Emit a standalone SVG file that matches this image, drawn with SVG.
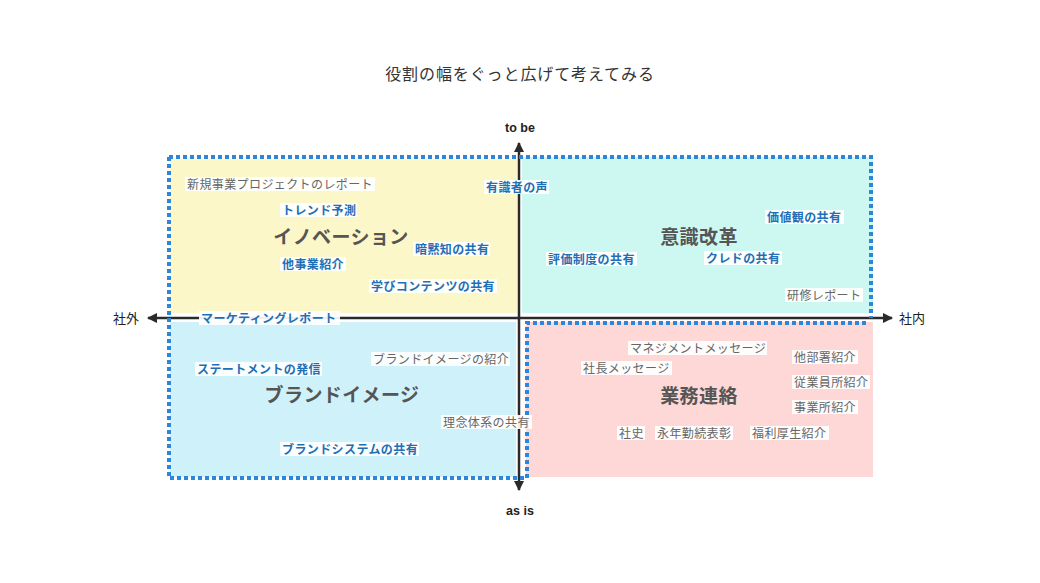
<svg xmlns="http://www.w3.org/2000/svg" width="1040" height="583" viewBox="0 0 1040 583">
<defs>
<style>
text{font-family:"Noto Sans CJK JP","Noto Sans",sans-serif;}
.title{font-size:16px;fill:#333;letter-spacing:0.9px;}
.ax{font-size:13px;fill:#222;}
.en{font-family:"Liberation Sans",Arial,sans-serif;font-size:12.5px;font-weight:bold;fill:#222;}
.big{font-size:19px;font-weight:bold;fill:#555;letter-spacing:0.4px;text-anchor:middle;}
.lb{font-size:12px;letter-spacing:0.4px;}
.blue{fill:#1f6fb6;font-weight:bold;}
.gray{fill:#666;}
.bg{fill:#fff;opacity:0.92;}
.axis{stroke:#2a2a2a;stroke-width:2.5;fill:none;}
.dots{fill:none;stroke:#2d86da;stroke-width:4;stroke-dasharray:4 3;}
</style>
<marker id="ah" viewBox="0 0 10 10" refX="9" refY="5" markerWidth="4.2" markerHeight="4.2" orient="auto-start-reverse" markerUnits="strokeWidth">
<path d="M0,0 L10,5 L0,10 Z" fill="#2a2a2a"/>
</marker>
</defs>
<rect width="1040" height="583" fill="#fff"/>
<text class="title" x="520" y="80" text-anchor="middle">役割の幅をぐっと広げて考えてみる</text>

<g id="quadrants">
<rect id="q-tl" x="170" y="159" width="347" height="154" fill="#fcf7c8"/>
<rect id="q-tr" x="522" y="157" width="351" height="156" fill="#cdf7f1"/>
<rect id="q-bl" x="170" y="322" width="346" height="155" fill="#cff1fa"/>
<rect id="q-br" x="526" y="322" width="347" height="155" fill="#fed8d6"/>
</g>

<g id="connectors">
<line class="axis" x1="519" y1="490" x2="519" y2="143" marker-end="url(#ah)" marker-start="url(#ah)"/>
<line class="axis" x1="148" y1="318" x2="892" y2="318" marker-end="url(#ah)" marker-start="url(#ah)"/>
</g>

<path id="dotted-border" class="dots" d="M169,157 H871 V318 M866,323 H527 V478 H169 V157"/>

<g id="axis-labels">
<text class="en" x="520" y="132" text-anchor="middle">to be</text>
<text class="en" x="520" y="515" text-anchor="middle">as is</text>
<text class="ax" x="113" y="323">社外</text>
<text class="ax" x="899" y="323">社内</text>
</g>

<g id="n-innovation"><text class="big" x="341" y="244">イノベーション</text></g>
<g id="n-ishiki"><text class="big" x="699" y="244">意識改革</text></g>
<g id="n-brand"><text class="big" x="342" y="402">ブランドイメージ</text></g>
<g id="n-gyomu"><text class="big" x="699" y="403">業務連絡</text></g>

<g id="l1"><rect class="bg" x="185" y="177" width="190" height="14"/><text class="lb gray" x="187" y="188.5">新規事業プロジェクトのレポート</text></g>
<g id="l2"><rect class="bg" x="280" y="203" width="77" height="14"/><text class="lb blue" x="282" y="214.5">トレンド予測</text></g>
<g id="l3"><rect class="bg" x="413" y="242" width="77" height="14"/><text class="lb blue" x="415" y="253.5">暗黙知の共有</text></g>
<g id="l4"><rect class="bg" x="280" y="257" width="66" height="14"/><text class="lb blue" x="282" y="268.5">他事業紹介</text></g>
<g id="l5"><rect class="bg" x="369" y="279" width="128" height="14"/><text class="lb blue" x="371" y="290.5">学びコンテンツの共有</text></g>
<g id="l6"><rect class="bg" x="484" y="180" width="65" height="14"/><text class="lb blue" x="486" y="191.5">有識者の声</text></g>
<g id="l7"><rect class="bg" x="199" y="311" width="141" height="14"/><text class="lb blue" x="201" y="322.5">マーケティングレポート</text></g>
<g id="l8"><rect class="bg" x="765" y="210" width="79" height="14"/><text class="lb blue" x="767" y="221.5">価値観の共有</text></g>
<g id="l9"><rect class="bg" x="546" y="252" width="91" height="14"/><text class="lb blue" x="548" y="263.5">評価制度の共有</text></g>
<g id="l10"><rect class="bg" x="704" y="251" width="78" height="14"/><text class="lb blue" x="706" y="262.5">クレドの共有</text></g>
<g id="l11"><rect class="bg" x="785" y="288" width="78" height="14"/><text class="lb gray" x="787" y="299.5">研修レポート</text></g>
<g id="l12"><rect class="bg" x="371" y="352" width="139" height="14"/><text class="lb gray" x="373" y="363.5">ブランドイメージの紹介</text></g>
<g id="l13"><rect class="bg" x="195" y="362" width="127" height="14"/><text class="lb blue" x="197" y="373.5">ステートメントの発信</text></g>
<g id="l14"><rect class="bg" x="441" y="415" width="91" height="14"/><text class="lb gray" x="443" y="426.5">理念体系の共有</text></g>
<g id="l15"><rect class="bg" x="280" y="442" width="139" height="14"/><text class="lb blue" x="282" y="453.5">ブランドシステムの共有</text></g>
<g id="l16"><rect class="bg" x="628" y="341" width="139" height="14"/><text class="lb gray" x="630" y="352.5">マネジメントメッセージ</text></g>
<g id="l17"><rect class="bg" x="792" y="350" width="66" height="14"/><text class="lb gray" x="794" y="361.5">他部署紹介</text></g>
<g id="l18"><rect class="bg" x="581" y="361" width="91" height="14"/><text class="lb gray" x="583" y="372.5">社長メッセージ</text></g>
<g id="l19"><rect class="bg" x="792" y="375" width="78" height="14"/><text class="lb gray" x="794" y="386.5">従業員所紹介</text></g>
<g id="l20"><rect class="bg" x="792" y="400" width="66" height="14"/><text class="lb gray" x="794" y="411.5">事業所紹介</text></g>
<g id="l21"><rect class="bg" x="617" y="426" width="28" height="14"/><text class="lb gray" x="619" y="437.5">社史</text></g>
<g id="l22"><rect class="bg" x="655" y="426" width="78" height="14"/><text class="lb gray" x="657" y="437.5">永年勤続表彰</text></g>
<g id="l23"><rect class="bg" x="750" y="426" width="79" height="14"/><text class="lb gray" x="752" y="437.5">福利厚生紹介</text></g>
</svg>
